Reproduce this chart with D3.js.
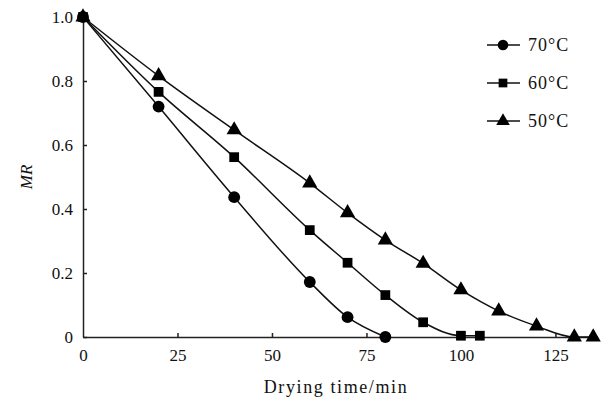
<!DOCTYPE html>
<meta charset="utf-8">
<script src="https://d3js.org/d3.v7.min.js"></script>
<style>
  body { margin: 0; background: #fff; }
  text { font-family: "Liberation Serif", "DejaVu Serif", serif; fill: #111; }
</style>
<div id="my_dataviz"></div>
<script>

// drying time (min) and moisture ratio for each temperature
var time70 = [0, 20, 40, 60, 70, 80];
var mr70   = [1.0, 0.72, 0.437, 0.172, 0.062, 0.0];
var time60 = [0, 20, 40, 60, 70, 80, 90, 100, 105];
var mr60   = [1.0, 0.766, 0.562, 0.334, 0.232, 0.131, 0.046, 0.004, 0.004];
var time50 = [0, 20, 40, 60, 70, 80, 90, 100, 110, 120, 130, 135];
var mr50   = [1.0, 0.816, 0.647, 0.481, 0.388, 0.303, 0.23, 0.147, 0.081, 0.034, 0.0, 0.0];

var seriesNames = ["70°C", "60°C", "50°C"];
var xTicks = [0, 25, 50, 75, 100, 125];
var yTicks = [0, 0.2, 0.4, 0.6, 0.8, 1.0];

var width = 601, height = 403;
var margin = {left: 83, top: 17, right: 4, bottom: 66};

var svg = d3.select("#my_dataviz")
  .append("svg")
    .attr("width", width)
    .attr("height", height);

var x = d3.scaleLinear()
  .domain([0, 136])
  .range([margin.left, width - margin.right]);

var y = d3.scaleLinear()
  .domain([0, 1])
  .range([height - margin.bottom, margin.top]);

// axes with inward ticks
var xAxis = svg.append("g")
  .attr("transform", "translate(0," + y(0) + ")")
  .call(d3.axisBottom(x).tickValues(xTicks).tickSize(-4).tickSizeOuter(0).tickPadding(12)
    .tickFormat(function(d) { return d; }));

var yAxis = svg.append("g")
  .attr("transform", "translate(" + x(0) + ",0)")
  .call(d3.axisLeft(y).tickValues(yTicks).tickSize(-4).tickSizeOuter(0).tickPadding(10)
    .tickFormat(function(d) { return d === 0 ? "0" : d3.format(".1f")(d); }));

[xAxis, yAxis].forEach(function(a) {
  a.selectAll("path, line").attr("stroke", "#222").attr("stroke-width", 1.5);
  a.selectAll("text").style("font-size", "17px").style("font-family", "Liberation Serif");
});
xAxis.selectAll(".tick").filter(function(d) { return d === 0; }).select("line").remove();

// axis titles
svg.append("text")
  .attr("x", 336)
  .attr("y", 393)
  .attr("text-anchor", "middle")
  .style("font-size", "18px")
  .style("letter-spacing", "1.6px")
  .text("Drying time/min");

svg.append("text")
  .attr("transform", "translate(32," + y(0.5) + ") rotate(-90)")
  .attr("text-anchor", "middle")
  .style("font-size", "17px")
  .style("font-style", "italic")
  .text("MR");

// lines + markers
var series = [
  {name: seriesNames[0], t: time70, v: mr70, sym: d3.symbolCircle, size: 110},
  {name: seriesNames[1], t: time60, v: mr60, sym: d3.symbolSquare, size: 95},
  {name: seriesNames[2], t: time50, v: mr50, sym: d3.symbolTriangle, size: 100}
];

var line = d3.line()
  .x(function(d) { return x(d[0]); })
  .y(function(d) { return y(d[1]); })
  .curve(d3.curveMonotoneX);

series.forEach(function(s) {
  var pts = s.t.map(function(t, i) { return [t, s.v[i]]; });
  svg.append("path")
    .datum(pts)
    .attr("fill", "none")
    .attr("stroke", "#111")
    .attr("stroke-width", 1.5)
    .attr("d", line);
  svg.append("g").selectAll("path")
    .data(pts)
    .enter().append("path")
      .attr("transform", function(d) { return "translate(" + x(d[0]) + "," + y(d[1]) + ")"; })
      .attr("d", d3.symbol().type(s.sym).size(s.size))
      .attr("fill", "#000");
});

// legend
var legend = svg.append("g")
  .selectAll("g")
  .data(series)
  .enter().append("g")
    .attr("transform", function(d, i) { return "translate(487," + (45 + i * 38) + ")"; });

legend.append("line")
  .attr("x1", 0).attr("x2", 33)
  .attr("stroke", "#111").attr("stroke-width", 1.5);
legend.append("path")
  .attr("transform", "translate(16,0)")
  .attr("d", function(d) { return d3.symbol().type(d.sym).size(d.size * 0.8)(); })
  .attr("fill", "#000");
legend.append("text")
  .attr("x", 41)
  .attr("dy", "0.35em")
  .style("font-size", "18px")
  .style("letter-spacing", "1px")
  .text(function(d) { return d.name; });

</script>
